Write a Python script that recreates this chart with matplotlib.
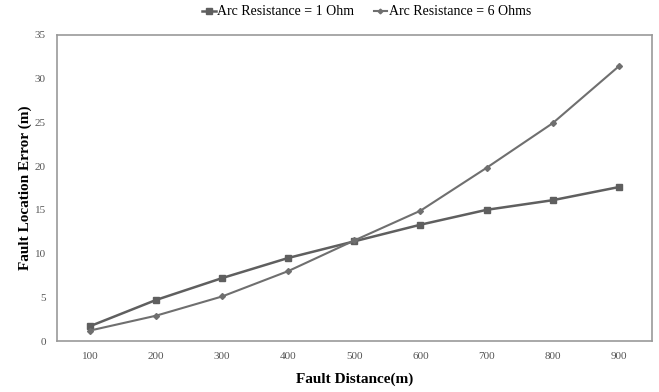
import matplotlib
matplotlib.use("Agg")
import matplotlib.pyplot as plt

plt.rcParams['font.family'] = ['Liberation Serif', 'DejaVu Serif']

distances = ["100", "200", "300", "400", "500", "600", "700", "800", "900"]
arc_1ohm = [1.7, 4.7, 7.2, 9.5, 11.4, 13.3, 15.0, 16.1, 17.6]
arc_6ohm = [1.2, 2.9, 5.1, 8.0, 11.5, 14.9, 19.8, 24.9, 31.4]

fig = plt.figure(figsize=(6.59, 3.92), dpi=100)
ax = fig.add_axes([0.0865, 0.130, 0.9025, 0.781])

xpos = list(range(1, len(distances) + 1))
ax.plot(xpos, arc_1ohm, color='#5f5f5f', lw=1.8, marker='s', ms=5,
        label='Arc Resistance = 1 Ohm')
ax.plot(xpos, arc_6ohm, color='#6f6f6f', lw=1.5, marker='D', ms=3,
        label='Arc Resistance = 6 Ohms')

ax.set_xlim(0.5, len(distances) + 0.5)
ax.set_ylim(0, 35)
ax.set_xticks(xpos)
ax.set_xticklabels(distances)
ax.set_yticks(range(0, 36, 5))
ax.tick_params(length=0, labelsize=8, colors='#555555', pad=8)
for s in ax.spines.values():
    s.set_color('#999999')
    s.set_linewidth(1.2)

ax.set_xlabel('Fault Distance(m)', fontsize=11, fontweight='bold', labelpad=8)
ax.set_ylabel('Fault Location Error (m)', fontsize=11, fontweight='bold', labelpad=2)

fig.legend(loc='upper center', bbox_to_anchor=(0.556, 1.018), ncol=2, frameon=False,
           fontsize=10, handlelength=1.0, columnspacing=1.4, handletextpad=0.1,
           markerscale=0.8)

fig.savefig('out.png', dpi=100)
